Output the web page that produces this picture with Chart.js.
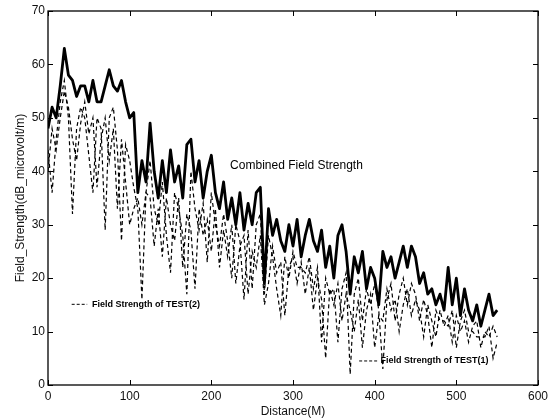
<!DOCTYPE html>
<html>
<head>
<meta charset="utf-8">
<script src="https://cdn.jsdelivr.net/npm/chart.js@4/dist/chart.umd.min.js"></script>
<style>
  html, body { margin: 0; padding: 0; background: #fff; }
  #wrap { width: 558px; height: 419px; }
</style>
</head>
<body>
<div id="wrap"><canvas id="fs" width="558" height="419"></canvas></div>
<script>
// distance in metres, one sample every 5 m
const DIST = [
  0, 5, 10, 15, 20, 25, 30, 35, 40, 45, 50, 55, 60, 65, 70, 75, 80, 85, 90, 95,
  100, 105, 110, 115, 120, 125, 130, 135, 140, 145, 150, 155, 160, 165, 170, 175, 180, 185, 190, 195,
  200, 205, 210, 215, 220, 225, 230, 235, 240, 245, 250, 255, 260, 265, 270, 275, 280, 285, 290, 295,
  300, 305, 310, 315, 320, 325, 330, 335, 340, 345, 350, 355, 360, 365, 370, 375, 380, 385, 390, 395,
  400, 405, 410, 415, 420, 425, 430, 435, 440, 445, 450, 455, 460, 465, 470, 475, 480, 485, 490, 495,
  500, 505, 510, 515, 520, 525, 530, 535, 540, 545, 550
];

// dB microvolt/m
const COMBINED = [
  48, 52, 50, 56, 63, 58, 57, 54, 56, 56,
  53, 57, 53, 53, 56, 59, 56, 55, 57, 53,
  50, 51, 36, 42, 38, 49, 40, 35, 42, 36,
  44, 38, 41, 35, 45, 46, 38, 42, 35, 40,
  43, 36, 33, 38, 31, 35, 30, 36, 29, 34,
  30, 36, 37, 19, 33, 28, 31, 27, 25, 30,
  26, 31, 24, 28, 31, 27, 25, 29, 22, 26,
  20, 28, 30, 25, 17, 24, 21, 25, 18, 22,
  20, 15, 25, 22, 24, 20, 23, 26, 22, 26,
  24, 19, 21, 17, 18, 15, 17, 14, 22, 15,
  20, 13, 18, 14, 12, 15, 11, 14, 17, 13,
  14
];

const TEST2 = [
  44, 36, 46, 53, 57, 50, 32, 48, 52, 50,
  43, 36, 50, 48, 29, 50, 52, 44, 27, 45,
  42, 37, 33, 16, 36, 42, 33, 30, 38, 28,
  21, 36, 33, 28, 17, 40, 33, 29, 34, 23,
  36, 30, 26, 32, 27, 20, 30, 27, 16, 29,
  18, 30, 32, 17, 28, 24, 18, 13, 24, 20,
  25, 22, 22, 21, 24, 18, 22, 8, 20, 17,
  18, 8, 18, 21, 2, 17, 20, 12, 18, 15,
  19, 14, 3, 16, 19, 12, 17, 20, 15, 19,
  17, 12, 16, 13, 7, 14, 12, 12, 11, 14,
  7, 12, 14, 10, 10, 9, 9, 9, 11, 5,
  8
];

const TEST1 = [
  40, 48, 44, 50, 55, 52, 46, 42, 49, 53,
  47, 50, 37, 46, 50, 42, 48, 33, 46, 38,
  30, 33, 35, 30, 36, 35, 26, 33, 24, 35,
  30, 27, 35, 22, 32, 29, 18, 33, 28, 31,
  25, 33, 22, 29, 24, 30, 19, 26, 28, 17,
  25, 22, 28, 15, 19, 26, 21, 23, 13, 22,
  24, 19, 23, 17, 22, 14, 20, 16, 5, 18,
  15, 19, 12, 17, 14, 10, 16, 7, 14, 17,
  7, 13, 12, 18, 14, 16, 10, 15, 18, 13,
  16, 14, 9, 15, 12, 9, 14, 11, 13, 8,
  13, 10, 12, 8, 11, 12, 7, 10, 9, 11,
  9
];

const X_TICKS = [0, 100, 200, 300, 400, 500, 600];
const Y_TICKS = [0, 10, 20, 30, 40, 50, 60, 70];

// in-plot labels, anchored in data units
const NOTES = [
  { text: 'Combined Field Strength', x: 223, y: 41.1, size: 12, line: null },
  { text: 'Field Strength of TEST(2)', x: 54, y: 15.1, size: 9, line: [29, 48] },
  { text: 'Field Strength of TEST(1)', x: 407, y: 4.5, size: 9, line: [381, 403] },
];

const FONT = "'Liberation Sans', Arial, Helvetica, sans-serif";

const toPoints = (ys) => DIST.map((d, i) => ({ x: d, y: ys[i] }));

const matlabFrame = {
  id: 'matlabFrame',
  afterDraw(chart) {
    const { ctx, chartArea: a, scales } = chart;
    const xs = scales.x, ys = scales.y;
    ctx.save();
    ctx.strokeStyle = '#000';
    ctx.lineWidth = 1.3;
    ctx.strokeRect(a.left, a.top, a.right - a.left, a.bottom - a.top);
    ctx.lineWidth = 1;
    ctx.beginPath();
    X_TICKS.forEach((v) => {
      const px = Math.round(xs.getPixelForValue(v)) + 0.5;
      ctx.moveTo(px, a.bottom); ctx.lineTo(px, a.bottom - 5);
      ctx.moveTo(px, a.top); ctx.lineTo(px, a.top + 5);
    });
    Y_TICKS.forEach((v) => {
      const py = Math.round(ys.getPixelForValue(v)) + 0.5;
      ctx.moveTo(a.left, py); ctx.lineTo(a.left + 5, py);
      ctx.moveTo(a.right, py); ctx.lineTo(a.right - 5, py);
    });
    ctx.stroke();
    ctx.restore();
  },
  afterDatasetsDraw(chart) {
    const { ctx, scales } = chart;
    ctx.save();
    ctx.fillStyle = '#000';
    ctx.strokeStyle = '#000';
    ctx.textBaseline = 'middle';
    NOTES.forEach((n) => {
      const py = scales.y.getPixelForValue(n.y);
      if (n.line) {
        ctx.lineWidth = 1;
        ctx.setLineDash([3, 2]);
        ctx.beginPath();
        ctx.moveTo(scales.x.getPixelForValue(n.line[0]), py);
        ctx.lineTo(scales.x.getPixelForValue(n.line[1]), py);
        ctx.stroke();
        ctx.setLineDash([]);
      }
      ctx.font = (n.size < 10 ? 'bold ' : '') + n.size + 'px ' + FONT;
      ctx.fillText(n.text, scales.x.getPixelForValue(n.x), py);
    });
    ctx.restore();
  },
};

new Chart(document.getElementById('fs'), {
  type: 'line',
  data: {
    datasets: [
      {
        label: 'Field Strength of TEST(2)',
        data: toPoints(TEST2),
        borderColor: '#000',
        borderWidth: 1.2,
        borderDash: [4, 3],
        pointRadius: 0,
        tension: 0,
      },
      {
        label: 'Field Strength of TEST(1)',
        data: toPoints(TEST1),
        borderColor: '#000',
        borderWidth: 1.2,
        borderDash: [4, 3],
        pointRadius: 0,
        tension: 0,
      },
      {
        label: 'Combined Field Strength',
        data: toPoints(COMBINED),
        borderColor: '#000',
        borderWidth: 2.8,
        borderJoinStyle: 'round',
        pointRadius: 0,
        tension: 0,
      },
    ],
  },
  options: {
    responsive: false,
    animation: false,
    layout: { padding: { top: 11, right: 20, left: 0, bottom: 0 } },
    plugins: { legend: { display: false }, tooltip: { enabled: false } },
    scales: {
      x: {
        type: 'linear',
        min: 0,
        max: 600,
        afterFit: (s) => { s.height = 34; },
        afterBuildTicks: (s) => { s.ticks = X_TICKS.map((v) => ({ value: v })); },
        grid: { display: false, drawTicks: false },
        border: { display: false },
        ticks: { color: '#111', padding: 4, maxRotation: 0, font: { family: FONT, size: 12 } },
        title: {
          display: true,
          text: 'Distance(M)',
          color: '#111',
          padding: { top: 0, bottom: 0 },
          font: { family: FONT, size: 12 },
        },
      },
      y: {
        min: 0,
        max: 70,
        afterFit: (s) => { s.width = 48; },
        afterBuildTicks: (s) => { s.ticks = Y_TICKS.map((v) => ({ value: v })); },
        grid: { display: false, drawTicks: false },
        border: { display: false },
        ticks: { color: '#111', padding: 3, font: { family: FONT, size: 12 } },
        title: {
          display: true,
          text: 'Field_Strength(dB_microvolt/m)',
          color: '#111',
          padding: { top: 13, bottom: 0 },
          font: { family: FONT, size: 12 },
        },
      },
    },
  },
  plugins: [matlabFrame],
});
</script>
</body>
</html>
